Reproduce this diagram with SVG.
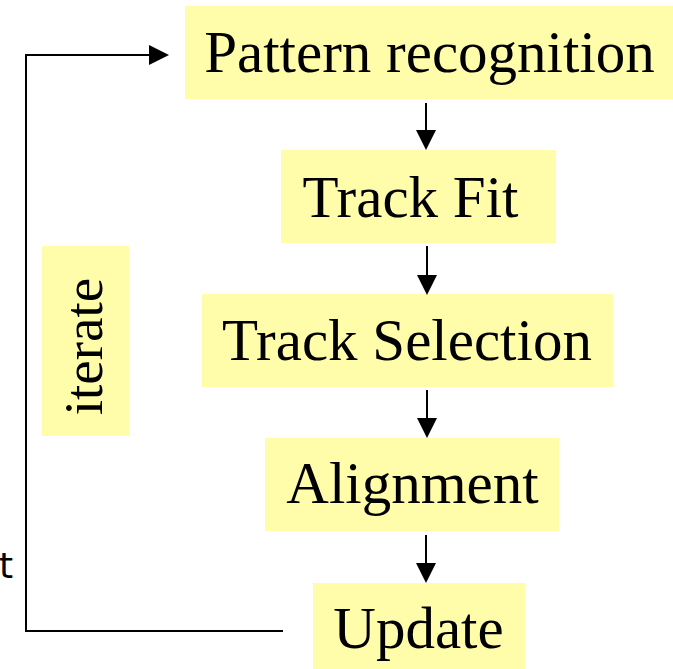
<svg xmlns="http://www.w3.org/2000/svg" width="673" height="669" viewBox="0 0 673 669">
<style>
.box{fill:#FFFCAA;}
.lbl{font-family:"Liberation Serif","Times New Roman",serif;font-size:59px;fill:#000;text-anchor:middle;}
.con{fill:none;stroke:#000;stroke-width:2;}
</style>
<defs>
<marker id="ah" markerUnits="userSpaceOnUse" markerWidth="20" markerHeight="20" viewBox="0 0 20 20" refX="18" refY="10" orient="auto">
<path d="M0,0 L20,10 L0,20 z" fill="#000"/>
</marker>
</defs>
<rect width="673" height="669" fill="#fff"/>
<g id="node-pattern">
<rect class="box" x="185" y="6" width="488" height="93"/>
<text class="lbl" x="429.5" y="72">Pattern recognition</text>
</g>
<g id="node-trackfit">
<rect class="box" x="281" y="150" width="275" height="93"/>
<text class="lbl" x="410.5" y="217">Track Fit</text>
</g>
<g id="node-trackselection">
<rect class="box" x="202" y="294" width="411" height="93"/>
<text class="lbl" x="407" y="360">Track Selection</text>
</g>
<g id="node-alignment">
<rect class="box" x="265" y="438" width="294" height="93"/>
<text class="lbl" x="412.5" y="503">Alignment</text>
</g>
<g id="node-update">
<rect class="box" x="313" y="583" width="212" height="86"/>
<text class="lbl" x="418.5" y="648">Update</text>
</g>
<g id="node-iterate">
<rect class="box" x="42" y="246" width="87" height="190"/>
<text class="lbl" style="font-size:55px" transform="translate(102,346.5) rotate(-90)" x="0" y="0">iterate</text>
</g>
<g id="clipped-label">
<text x="-1" y="578" style="font-family:'DejaVu Sans',sans-serif;font-size:36px;fill:#000;">t</text>
</g>
<g id="connectors">
<line class="con" x1="426" y1="103" x2="426" y2="148" marker-end="url(#ah)"/>
<line class="con" x1="427" y1="246" x2="427" y2="293" marker-end="url(#ah)"/>
<line class="con" x1="427" y1="390" x2="427" y2="436" marker-end="url(#ah)"/>
<line class="con" x1="426" y1="535" x2="426" y2="581" marker-end="url(#ah)"/>
<polyline class="con" points="283,631 26,631 26,55 167,55" marker-end="url(#ah)"/>
</g>
</svg>
